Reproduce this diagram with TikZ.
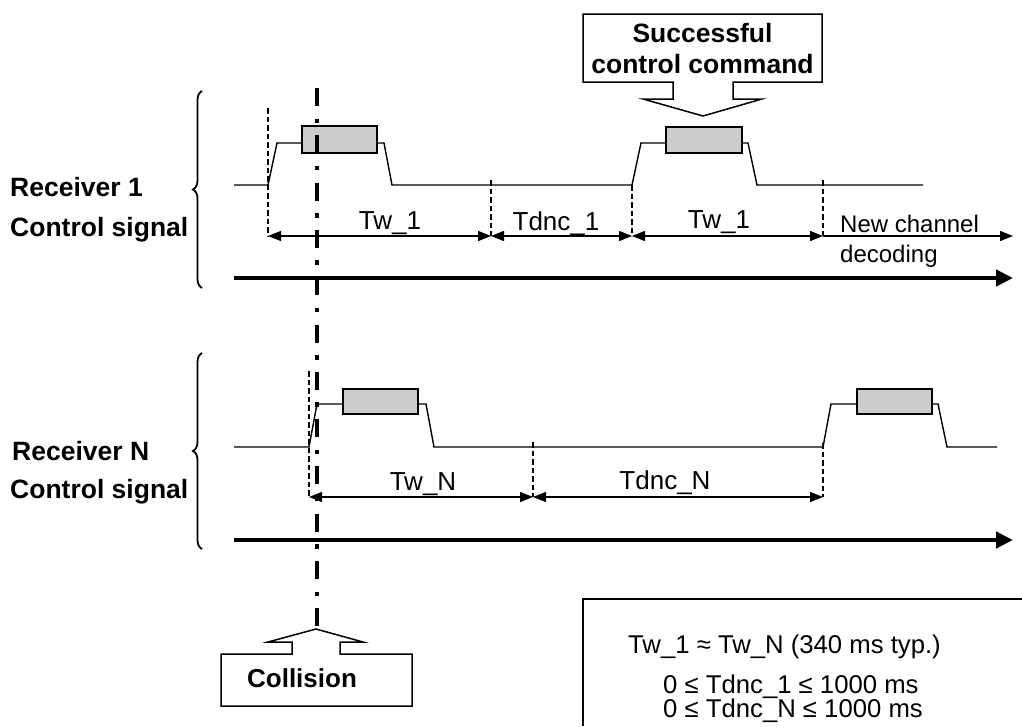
\documentclass[tikz,border=0pt]{standalone}
\usepackage{fontspec}
\setmainfont{Liberation Sans}
\usetikzlibrary{arrows.meta,decorations.pathreplacing}
\begin{document}
\begin{tikzpicture}[x=1pt,y=-1pt,
  sig/.style={line width=1.4pt,line join=miter},
  pulsebox/.style={draw=black,line width=1.6pt,fill=gray!40},
  dashmark/.style={line width=1.8pt,dash pattern=on 5.5pt off 3pt},
  dim/.style={line width=1.4pt,{Triangle[length=13pt,width=10pt]}-{Triangle[length=13pt,width=10pt]}},
  onedim/.style={line width=1.4pt,-{Triangle[length=13pt,width=10pt]}},
  axisline/.style={line width=4.5pt,-{Triangle[length=17pt,width=16pt]}},
  lbl/.style={font=\fontsize{26}{30}\selectfont,inner sep=0pt,anchor=base},
  smalllbl/.style={font=\fontsize{24}{28}\selectfont,inner sep=0pt,anchor=base west},
  boldlbl/.style={font=\fontsize{26.5}{30}\selectfont\bfseries,inner sep=0pt,anchor=base west},
  boxtxt/.style={font=\fontsize{25.7}{30}\selectfont,inner sep=0pt,anchor=base west},
  callout/.style={draw=black,line width=1.5pt,fill=white,line join=miter},
  brc/.style={decorate,decoration={brace,amplitude=9pt},line width=1.8pt},
  collline/.style={line width=4.5pt,dash pattern=on 18pt off 12.5pt on 4.5pt off 12.3pt}
]
\useasboundingbox (0,0) rectangle (1022,726);

% ---------- labels on the left ----------
\node[boldlbl] (r1a) at (10,196) {Receiver 1};
\node[boldlbl] (r1b) at (10,236) {Control signal};
\node[boldlbl] (rNa) at (12,460) {Receiver N};
\node[boldlbl] (rNb) at (10,498) {Control signal};

\coordinate (b1bot) at (202,288); \coordinate (b1top) at (202,91);
\coordinate (bNbot) at (202,549); \coordinate (bNtop) at (202,353);
\draw[brc] (b1bot) -- (b1top);
\draw[brc] (bNbot) -- (bNtop);

% ---------- Receiver 1 ----------
\draw[sig] (234,185) -- (268,185) -- (277,143) -- (384,143) -- (392,185) -- (632,185)
  -- (641,143) -- (748,143) -- (757,185) -- (923,185);
\node[pulsebox,minimum width=75pt,minimum height=27pt,inner sep=0pt,anchor=north west] (p1a) at (301,125) {};
\node[pulsebox,minimum width=76pt,minimum height=26pt,inner sep=0pt,anchor=north west] (p1b) at (665,126) {};

\coordinate (m1a) at (268,236); \coordinate (m1aT) at (268,108);
\coordinate (m1b) at (491,236); \coordinate (m1bT) at (491,180);
\coordinate (m1c) at (632,236); \coordinate (m1cT) at (632,185);
\coordinate (m1d) at (823,236); \coordinate (m1dT) at (823,180);
\coordinate (m1e) at (1013,236);
\draw[dashmark] (m1aT) -- (m1a);
\draw[dashmark] (m1bT) -- (m1b);
\draw[dashmark] (m1cT) -- (m1c);
\draw[dashmark] (m1dT) -- (m1d);
\draw[dim] (m1a) -- (m1b);
\draw[dim] (m1b) -- (m1c);
\draw[dim] (m1c) -- (m1d);
\draw[onedim] (m1d) -- (m1e);
\node[lbl] (tw1a) at (390,229) {Tw\_1};
\node[lbl] (tdnc1) at (556,230) {Tdnc\_1};
\node[lbl] (tw1b) at (719,228) {Tw\_1};
\node[smalllbl] (nc1) at (840,232) {New channel};
\node[smalllbl] (nc2) at (840,262) {decoding};

\coordinate (ax1s) at (234,278); \coordinate (ax1e) at (1013,278);
\draw[axisline] (ax1s) -- (ax1e);

% ---------- Receiver N ----------
\draw[sig] (234,447) -- (309,447) -- (317,404) -- (426,404) -- (434,447) -- (823,447)
  -- (831,404) -- (938,404) -- (947,447) -- (997,447);
\node[pulsebox,minimum width=75pt,minimum height=25pt,inner sep=0pt,anchor=north west] (pNa) at (342,388) {};
\node[pulsebox,minimum width=75pt,minimum height=25pt,inner sep=0pt,anchor=north west] (pNb) at (856,388) {};

\coordinate (mNa) at (309,497); \coordinate (mNaT) at (309,371);
\coordinate (mNb) at (533,497); \coordinate (mNbT) at (533,442);
\coordinate (mNc) at (823,497); \coordinate (mNcT) at (823,443);
\draw[dashmark] (mNaT) -- (mNa);
\draw[dashmark] (mNbT) -- (mNb);
\draw[dashmark] (mNcT) -- (mNc);
\draw[dim] (mNa) -- (mNb);
\draw[dim] (mNb) -- (mNc);
\node[lbl] (twN) at (423,490) {Tw\_N};
\node[lbl] (tdncN) at (665,489) {Tdnc\_N};

\coordinate (axNs) at (234,540); \coordinate (axNe) at (1013,540);
\draw[axisline] (axNs) -- (axNe);

% ---------- collision line ----------
\coordinate (collT) at (317,88);
\coordinate (collB) at (317,629);
\draw[collline] (collT) -- (collB);

% ---------- callouts ----------
\draw[callout] (583,14) -- (822,14) -- (822,82) -- (733,82) -- (733,99) -- (762,99)
  -- (703,116) -- (643,99) -- (673,99) -- (673,82) -- (583,82) -- cycle;
\node[font=\fontsize{26.5}{30}\selectfont\bfseries,inner sep=0pt,anchor=base] (succ1) at (702.5,42) {Successful};
\node[font=\fontsize{26.5}{30}\selectfont\bfseries,inner sep=0pt,anchor=base] (succ2) at (702.5,73) {control command};

\draw[callout] (221,654) -- (292,654) -- (292,642) -- (268,642) -- (316,629) -- (363,642)
  -- (340,642) -- (340,654) -- (412,654) -- (412,706) -- (221,706) -- cycle;
\node[font=\fontsize{26}{30}\selectfont\bfseries,inner sep=0pt,anchor=base] (coll) at (302,687) {Collision};

% ---------- note box ----------
\draw[line width=1.5pt] (583,726) -- (583,599) -- (1022,599);
\node[boxtxt] (n1) at (628,653) {Tw\_1 ≈ Tw\_N (340 ms typ.)};
\node[boxtxt] (n2) at (663,693) {0 ≤ Tdnc\_1 ≤ 1000 ms};
\node[boxtxt] (n3) at (663,717) {0 ≤ Tdnc\_N ≤ 1000 ms};
\end{tikzpicture}
\end{document}
